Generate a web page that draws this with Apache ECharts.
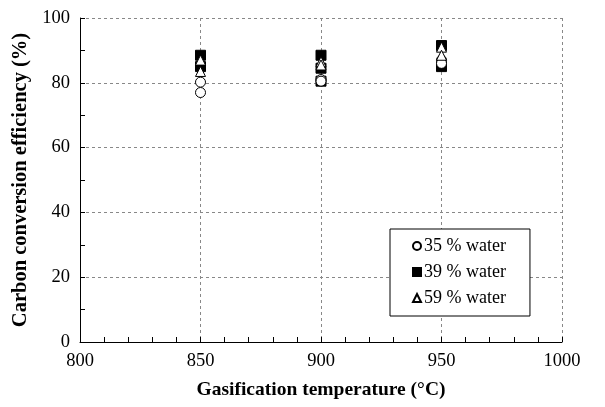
<!DOCTYPE html>
<html>
<head>
<meta charset="utf-8">
<script src="https://cdn.jsdelivr.net/npm/echarts@6/dist/echarts.min.js"></script>
<style>
  html, body {margin: 0; padding: 0; background: #fff;}
  #main {width: 605px; height: 407px;}
</style>
</head>
<body>
<div id="main"></div>
<script>
// gasification runs, two or three repeats per temperature
const temp35 = [850, 850, 900, 900, 950, 950];
const water35 = [80.2, 77, 81, 80.5, 87, 86];
const temp39 = [850, 850, 900, 900, 900, 950, 950];
const water39 = [88.5, 85, 88.5, 84.5, 80.5, 91.5, 85];
const temp59 = [850, 850, 900, 900, 950, 950];
const water59 = [87, 83.5, 86.5, 85.5, 91, 88.5];

const seriesNames = ['35 % water', '39 % water', '59 % water'];

const font = 'Liberation Serif, Times New Roman, serif';

function pairs(xs, ys) {
  return xs.map((x, i) => [x, ys[i]]);
}

const chart = echarts.init(document.getElementById('main'));

let option = {
  animation: false,
  textStyle: {fontFamily: font},
  grid: {left: 80, right: 43, top: 18, bottom: 65},
  legend: {
    orient: 'vertical',
    left: 390,
    top: 229,
    padding: [8, 24, 9, 22],
    itemGap: 8,
    itemWidth: 8,
    itemHeight: 8,
    borderColor: '#000',
    borderWidth: 1,
    backgroundColor: '#fff',
    textStyle: {fontFamily: font, fontSize: 18, color: '#000', padding: [0, 0, 0, -2]},
    data: seriesNames
  },
  xAxis: {
    type: 'value',
    min: 800,
    max: 1000,
    interval: 50,
    name: 'Gasification temperature (°C)',
    nameLocation: 'middle',
    nameGap: 38,
    nameTextStyle: {fontFamily: font, fontSize: 19.5, fontWeight: 'bold', color: '#000'},
    axisLine: {lineStyle: {color: '#000', width: 1}},
    axisTick: {show: true, inside: true, length: 5, lineStyle: {color: '#000'}},
    minorTick: {show: true, splitNumber: 5, length: 5, lineStyle: {color: '#000'}},
    axisLabel: {fontFamily: font, fontSize: 18.5, color: '#000', margin: 10, formatter: v => String(v)},
    splitLine: {show: true, lineStyle: {color: '#888', type: [3, 3], width: 1}}
  },
  yAxis: {
    type: 'value',
    min: 0,
    max: 100,
    interval: 20,
    name: 'Carbon conversion efficiency (%)',
    nameLocation: 'middle',
    nameGap: 49,
    nameTextStyle: {fontFamily: font, fontSize: 20.5, fontWeight: 'bold', color: '#000'},
    axisLine: {show: true, lineStyle: {color: '#000', width: 1}},
    axisTick: {show: true, inside: true, length: 5, lineStyle: {color: '#000'}},
    minorTick: {show: true, splitNumber: 2, length: 5, lineStyle: {color: '#000'}},
    axisLabel: {fontFamily: font, fontSize: 18.5, color: '#000', margin: 10},
    splitLine: {show: true, lineStyle: {color: '#888', type: [3, 3], width: 1}}
  },
  series: [
    {
      name: seriesNames[1],
      type: 'scatter',
      data: pairs(temp39, water39),
      symbol: 'rect',
      symbolSize: 10,
      itemStyle: {color: '#000', borderColor: '#000', borderWidth: 1, opacity: 1},
      z: 2
    },
    {
      name: seriesNames[0],
      type: 'scatter',
      data: pairs(temp35, water35),
      symbol: 'circle',
      symbolSize: 10,
      itemStyle: {color: '#fff', borderColor: '#000', borderWidth: 1, opacity: 1},
      z: 3
    },
    {
      name: seriesNames[2],
      type: 'scatter',
      data: pairs(temp59, water59),
      symbol: 'triangle',
      symbolSize: 10,
      itemStyle: {color: '#fff', borderColor: '#000', borderWidth: 1, opacity: 1},
      z: 4
    }
  ]
};

chart.setOption(option);
</script>
</body>
</html>
